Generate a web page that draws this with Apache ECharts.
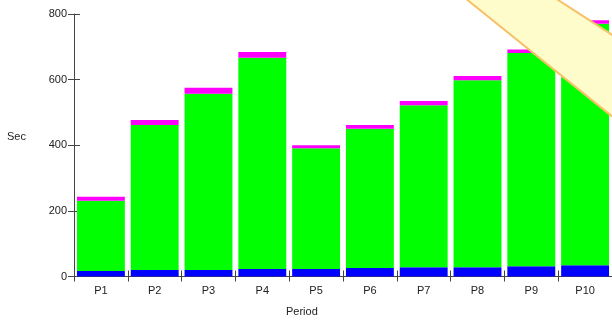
<!DOCTYPE html>
<html><head><meta charset="utf-8">
<script src="https://cdn.jsdelivr.net/npm/echarts@6/dist/echarts.min.js"></script>
<style>html,body{margin:0;padding:0;background:#fff}#c{width:612px;height:321px}</style>
</head><body><div id="c"></div>
<script>
var categories = ['P1','P2','P3','P4','P5','P6','P7','P8','P9','P10'];
var blueValues = [17,20,20,23,23,26,28,28,31,34];
var greenValues = [214,442,537,644,368,424,494,570,650,736];
var magentaValues = [12,15,18,17,9,12,13,13,11,11];
var yTicks = [0,200,400,600,800];

var chart = echarts.init(document.getElementById('c'), null, {renderer:'canvas'});
var axisCol = '#444';
var font = 'Liberation Sans, Arial, sans-serif';
chart.setOption({
  animation:false,
  grid:{left:74, right:0, top:14, bottom:44.5, containLabel:false},
  xAxis:[{
    type:'category', data:categories, boundaryGap:true,
    axisLine:{lineStyle:{color:axisCol,width:1}},
    axisTick:{show:true, length:5, alignWithLabel:false, lineStyle:{color:axisCol}},
    axisLabel:{color:'#222', fontFamily:font, fontSize:11, margin:9},
    splitLine:{show:false}
  },{
    type:'category', data:categories, boundaryGap:true, position:'bottom',
    axisLine:{show:false},
    axisTick:{show:true, inside:true, length:6, lineStyle:{color:axisCol}},
    axisLabel:{show:false}, splitLine:{show:false}
  }],
  yAxis:[{
    type:'value', min:yTicks[0], max:yTicks[yTicks.length-1], interval:200,
    axisLine:{show:true, lineStyle:{color:axisCol,width:1}},
    axisTick:{show:true, length:6, lineStyle:{color:axisCol}},
    axisLabel:{color:'#222', fontFamily:font, fontSize:11, margin:7},
    splitLine:{show:false}
  },{
    type:'value', min:yTicks[0], max:yTicks[yTicks.length-1], interval:200, position:'left',
    axisLine:{show:false},
    axisTick:{show:true, inside:true, length:6, lineStyle:{color:axisCol}},
    axisLabel:{show:false}, splitLine:{show:false}
  }],
  series:[
    {type:'bar', stack:'s', data:blueValues, barCategoryGap:'11%', itemStyle:{color:'#0000ff'}},
    {type:'bar', stack:'s', data:greenValues, barCategoryGap:'11%', itemStyle:{color:'#00ff00'}},
    {type:'bar', stack:'s', data:magentaValues, barCategoryGap:'11%', itemStyle:{color:'#ff00ff'}}
  ],
  graphic:[
    {type:'text', left:7, top:131, style:{text:'Sec', fill:'#222', font:'11px '+font}},
    {type:'text', left:286, top:306, style:{text:'Period', fill:'#222', font:'11px '+font}},
    {type:'polygon', z:100, shape:{points:[[465,-2],[555,-2],[614,36],[614,118]]},
      style:{fill:'#fffccc', stroke:'#f8c068', lineWidth:2}}
  ]
});
</script></body></html>
